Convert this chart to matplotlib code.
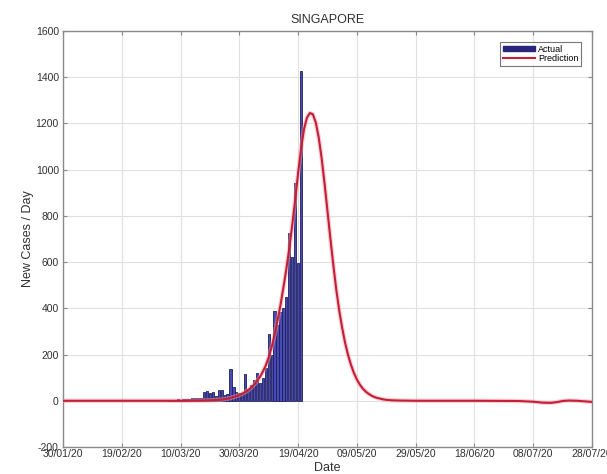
import matplotlib
matplotlib.use("Agg")
import matplotlib.pyplot as plt
from matplotlib.lines import Line2D
from matplotlib.patches import Patch

plt.rcParams['font.family'] = ['Liberation Sans', 'DejaVu Sans']

# Daily counts, day 0 = 30/01/20
actual_days = list(range(36, 82))
actual_cases = [3, 5, 4, 6, 5, 8, 6, 9, 10, 12, 12, 10,
                40, 43, 35, 36, 20, 48, 45, 25, 30, 137, 58, 40,
                35, 30, 116, 50, 70, 90, 120, 75, 100, 140, 287, 200,
                390, 330, 386, 400, 447, 728, 620, 942, 596, 1426]

pred_days = [0, 20, 40, 48, 52, 54, 56, 57, 58, 59, 60, 61, 62, 63, 64, 65, 66,
             67, 68, 69, 70, 71, 72, 73, 74, 75, 76, 77, 78, 79, 80, 81,
             82, 83, 84, 85, 86, 87, 88, 89, 90, 91, 92, 93, 94, 95, 96,
             97, 98, 99, 100, 101, 102, 103, 104, 105, 106, 107, 108, 109,
             110, 112, 115, 120, 140, 155, 160, 163, 166, 168, 170, 172,
             175, 178, 180]
pred_cases = [0, 0, 0, 1, 3, 5, 9, 12, 16, 20, 25, 31, 38, 46, 57, 70, 85,
              103, 126, 153, 188, 232, 287, 348, 414, 490, 570, 660, 760,
              870, 985, 1090, 1175, 1225, 1245, 1240, 1205, 1140, 1050, 940,
              820, 700, 585, 480, 390, 315, 250, 198, 155, 120, 92, 70, 53,
              40, 30, 22, 16, 12, 9, 6, 4, 2, 1, 0, 0, -1, -4, -8, -9, -6,
              -1, 1, 0, -3, -5]

tick_days = [0, 20, 40, 60, 80, 100, 120, 140, 160, 180]
tick_labels = ['30/01/20', '19/02/20', '10/03/20', '30/03/20', '19/04/20',
               '09/05/20', '29/05/20', '18/06/20', '08/07/20', '28/07/20']
y_ticks = [-200, 0, 200, 400, 600, 800, 1000, 1200, 1400, 1600]

bar_face = '#4a4ab4'
bar_edge = '#1e1e5c'
line_col = '#c41f38'
axis_col = '#8a8a8a'
text_col = '#303030'

fig = plt.figure(figsize=(6.07, 4.74), dpi=100)
ax = fig.add_axes([63 / 607, 27 / 474, (592 - 63) / 607, (447 - 31) / 474])

ax.bar(actual_days, actual_cases, width=0.75, color=bar_face,
       edgecolor=bar_edge, linewidth=0.6, zorder=2)
ax.plot(pred_days, pred_cases, color='#f4a0a8', lw=3.2, alpha=0.5,
        solid_capstyle='round', zorder=3)
ax.plot(pred_days, pred_cases, color=line_col, lw=1.5, zorder=4)

ax.set_xlim(0, 180)
ax.set_ylim(-200, 1600)
ax.set_xticks(tick_days)
ax.set_xticklabels(tick_labels)
ax.set_yticks(y_ticks)
ax.set_yticklabels([str(v) for v in y_ticks])

ax.grid(True, color='#e0e0e0', lw=0.8, zorder=0)
ax.set_axisbelow(True)
for s in ax.spines.values():
    s.set_color(axis_col)
    s.set_linewidth(1.0)
ax.tick_params(direction='in', length=3, color=axis_col, labelsize=7.5,
               labelcolor=text_col, top=True, right=True)
ax.tick_params(axis='x', pad=1.5)
ax.tick_params(axis='y', pad=3)

ax.set_title('SINGAPORE', fontsize=9, color=text_col, pad=6)
ax.set_xlabel('Date', fontsize=9, color=text_col, labelpad=2)
ax.set_ylabel('New Cases / Day', fontsize=9, color=text_col, labelpad=1)

handles = [Patch(facecolor='#26267a', edgecolor='#26267a'),
           Line2D([], [], color=line_col, lw=1.5)]
leg = ax.legend(handles, ['Actual', 'Prediction'], loc='upper right',
                fontsize=6.5, frameon=True, fancybox=False,
                handlelength=3.6, handleheight=0.5, handletextpad=0.3,
                labelspacing=0.05, borderpad=0.3, borderaxespad=1.2)
leg.get_frame().set_edgecolor('#555555')
leg.get_frame().set_linewidth(0.8)

fig.savefig('out.png', dpi=100)
